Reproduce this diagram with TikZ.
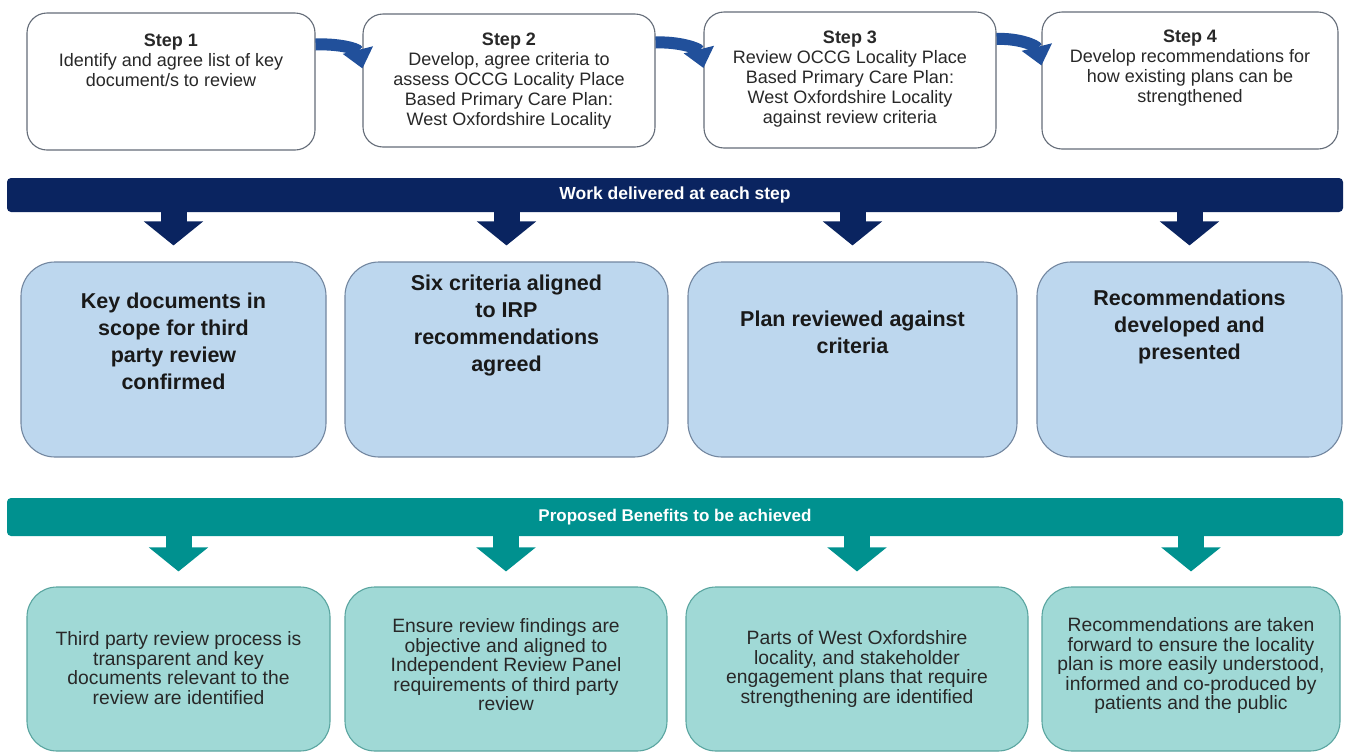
\documentclass[tikz,border=0pt]{standalone}
\usepackage{fontspec}
\setmainfont{Liberation Sans}
\usetikzlibrary{arrows.meta,calc}
\definecolor{navy}{RGB}{10,36,96}
\definecolor{arrblue}{RGB}{33,80,155}
\definecolor{tealband}{RGB}{0,145,143}
\definecolor{lblue}{RGB}{189,215,238}
\definecolor{lteal}{RGB}{160,217,214}
\definecolor{boxgray}{RGB}{100,108,120}
\definecolor{blueedge}{RGB}{115,135,160}
\definecolor{tealedge}{RGB}{90,165,160}
\definecolor{txt}{RGB}{40,40,40}
\tikzset{
  stepbox/.style={draw=boxgray, line width=1.1pt, fill=white, rounded corners=20pt, inner sep=0pt},
  bluebox/.style={draw=blueedge, line width=1.1pt, fill=lblue, rounded corners=34pt, inner sep=0pt, minimum height=195pt},
  tealbox/.style={draw=tealedge, line width=1.1pt, fill=lteal, rounded corners=30pt, inner sep=0pt, minimum height=164pt},
  steptext/.style={text=txt, align=center, inner sep=0pt, font={\fontsize{18}{20}\selectfont}},
  bluetext/.style={text=black!90, align=center, inner sep=0pt, font={\bfseries\fontsize{21.5}{27}\selectfont}},
  tealtext/.style={text=txt, align=center, inner sep=0pt, font={\fontsize{19.3}{19.5}\selectfont}},
  band/.style={rounded corners=4pt, inner sep=0pt, minimum width=1336pt, text=white},
  curvearr/.style={draw=arrblue, line width=12pt, -{Triangle[width=30pt,length=19pt]}},
  navyarr/.style={draw=navy, line width=26pt, -{Triangle[width=58pt,length=24pt]}},
  tealarr/.style={draw=tealband, line width=26pt, -{Triangle[width=58pt,length=24pt]}}
}
\begin{document}
\begin{tikzpicture}[x=1pt,y=-1pt]
\useasboundingbox[fill=white] (0,0) rectangle (1347,753);

% step boxes
\node[stepbox, minimum width=288pt, minimum height=137pt] (s1) at (171,81.5) {};
\node[stepbox, minimum width=292pt, minimum height=133pt] (s2) at (509,80.5) {};
\node[stepbox, minimum width=292pt, minimum height=136pt] (s3) at (850,80) {};
\node[stepbox, minimum width=296pt, minimum height=137pt] (s4) at (1190,80.5) {};

\node[steptext] (s1t) at (171,60) {\textbf{Step 1}\\Identify and agree list of key\\document/s to review};
\node[steptext] (s2t) at (509,81) {\textbf{Step 2}\\Develop,  agree criteria to\\assess OCCG Locality Place\\Based Primary Care Plan:\\West Oxfordshire Locality};
\node[steptext] (s3t) at (850,79.5) {\textbf{Step 3}\\Review OCCG Locality Place\\Based Primary Care Plan:\\West Oxfordshire Locality\\against review criteria};
\node[steptext] (s4t) at (1190,68.5) {\textbf{Step 4}\\Develop recommendations for\\how existing plans can be\\strengthened};

% curved arrows
\draw[curvearr] ([yshift=37pt]s1.east) .. controls +(22,-1) and +(-5,-20) .. ([yshift=12pt]s2.west);
\draw[curvearr] ([yshift=38pt]s2.east) .. controls +(22,-1) and +(-5,-20) .. ([yshift=12pt]s3.west);
\draw[curvearr] ([yshift=41pt]s3.east) .. controls +(22,-1) and +(-5,-20) .. ([yshift=15pt]s4.west);

% navy band
\node[band, fill=navy, minimum height=34pt, font={\bfseries\fontsize{17.5}{19}\selectfont}] (b1) at (675,195) {Work delivered at each step};

% blue boxes
\node[bluebox, minimum width=305pt] (L1) at (173.5,359.5) {};
\node[bluebox, minimum width=323pt] (L2) at (506.5,359.5) {};
\node[bluebox, minimum width=329pt] (L3) at (852.5,359.5) {};
\node[bluebox, minimum width=305pt] (L4) at (1189.5,359.5) {};

\node[bluetext] (L1t) at (173.5,341) {Key documents in\\scope for third\\party review\\confirmed};
\node[bluetext] (L2t) at (506.5,325) {Six criteria aligned\\to IRP\\recommendations\\agreed};
\node[bluetext] (L3t) at (852.5,332) {Plan reviewed against\\criteria};
\node[bluetext] (L4t) at (1189.5,327) {Recommendations\\developed and\\presented};

\foreach \b in {L1,L2,L3,L4}
  \draw[navyarr] ($(b1.south -| \b.north)+(0,-1)$) -- ([yshift=16pt]\b.north);

% teal band
\node[band, fill=tealband, minimum height=38pt, font={\bfseries\fontsize{17}{19}\selectfont}] (b2) at (675,517) {Proposed Benefits to be achieved};

% teal boxes
\node[tealbox, minimum width=303pt] (T1) at (178.5,669) {};
\node[tealbox, minimum width=322pt] (T2) at (506,669) {};
\node[tealbox, minimum width=342pt] (T3) at (857,669) {};
\node[tealbox, minimum width=298pt] (T4) at (1191,669) {};

\node[tealtext] (T1t) at (178.5,668) {Third party review process is\\transparent and key\\documents relevant to the\\review are identified};
\node[tealtext] (T2t) at (506,665) {Ensure review findings are\\objective and aligned to\\Independent Review Panel\\requirements of third party\\review};
\node[tealtext] (T3t) at (857,669) {Parts of West Oxfordshire\\locality, and stakeholder\\engagement plans that require\\strengthening are identified};
\node[tealtext] (T4t) at (1191,665.5) {Recommendations are taken\\forward to ensure the locality\\plan is more easily understood,\\informed and co-produced by\\patients and the public};

\foreach \b in {T1,T2,T3,T4}
  \draw[tealarr] ($(b2.south -| \b.north)+(0,-1)$) -- ([yshift=15pt]\b.north);
\end{tikzpicture}
\end{document}
